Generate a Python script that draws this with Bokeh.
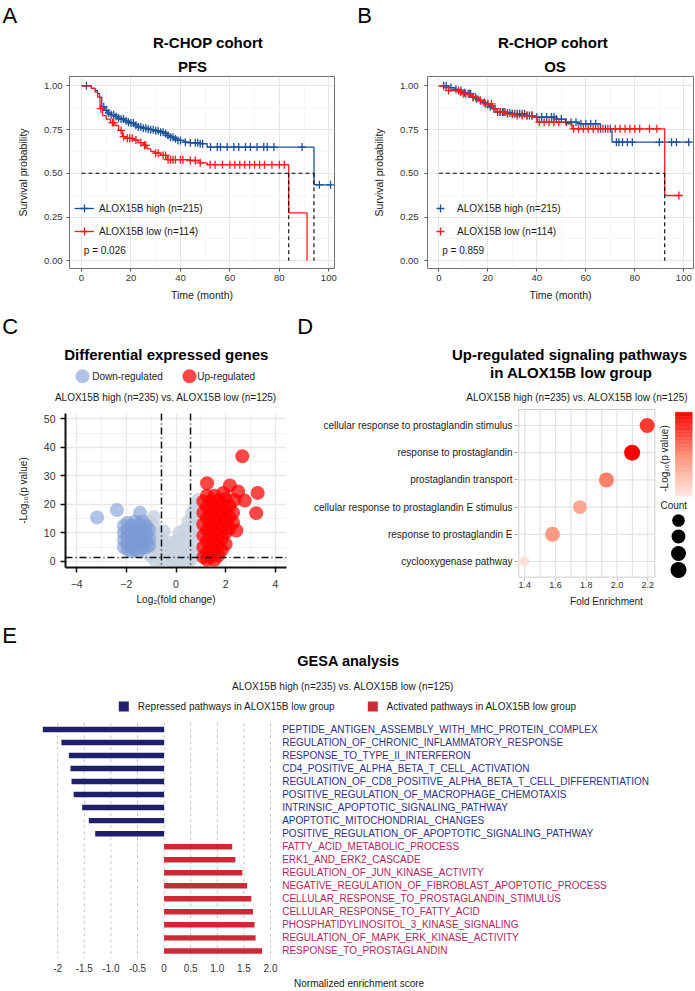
import math
from bokeh.plotting import figure
from bokeh.layouts import column, row
from bokeh.models import (Label, Range1d, FixedTicker, Span, ColumnDataSource, LinearColorMapper,
                          NumeralTickFormatter, Legend, LegendItem)
from bokeh.embed import file_html
from bokeh.resources import INLINE
from bokeh.core.properties import value

FONT = "Liberation Sans"

# ======================= DATA =======================
# Panel A: PFS, R-CHOP cohort (Kaplan-Meier steps)
pfs_high_time = [0, 4, 5.5, 6.5, 7.3, 8.2, 9.5, 10.5, 12, 13.5, 14.5, 16, 17.5, 18.5, 20, 21.5, 22.5, 24.5, 26.5, 28,
                 30, 32, 33.5, 34.6, 36, 37.3, 39, 41.4, 44, 48, 50.8, 94.0, 101.0]
pfs_high_surv = [1.0, 0.985, 0.973, 0.955, 0.935, 0.88, 0.86, 0.845, 0.835, 0.825, 0.815, 0.81, 0.8, 0.792, 0.787,
                 0.775, 0.764, 0.758, 0.752, 0.749, 0.743, 0.735, 0.728, 0.716, 0.706, 0.697, 0.688, 0.678, 0.674,
                 0.669, 0.65, 0.434, 0.434]
pfs_high_cens = [2, 9, 10, 11, 12, 13, 14, 15, 16, 17, 18, 19, 20, 21, 22, 23, 24, 25, 26, 27, 28, 29, 30, 31, 32, 33,
                 34, 35, 36, 37, 38, 39, 40, 42, 44, 46, 47, 48, 49, 52.2, 54.9, 56.2, 58.9, 61.6, 63.6, 66.3, 68.3,
                 71, 73.7, 75.1, 77.8, 89.2, 96.2, 100.7]
pfs_low_time = [0, 4, 5.5, 6.5, 7.5, 8.5, 10, 11.7, 13.5, 15, 16.5, 18, 21, 23, 25, 26.5, 28, 29.5, 32, 34.6, 44, 48,
                50.8, 83.8, 91.2]
pfs_low_surv = [1.0, 0.985, 0.964, 0.935, 0.869, 0.83, 0.81, 0.79, 0.773, 0.745, 0.71, 0.7, 0.69, 0.675, 0.66, 0.64,
                0.625, 0.615, 0.602, 0.578, 0.573, 0.56, 0.549, 0.274, 0.0]
pfs_low_cens = [7.8, 12.5, 13, 16, 17, 18.5, 19.5, 20.5, 22, 24, 25.5, 26, 30, 31, 33, 34, 35, 36, 37, 38, 40, 41, 44,
                46, 48, 52, 54, 57, 60, 62, 64, 66, 68, 70, 72, 74, 77, 80, 82]

# Panel B: OS, R-CHOP cohort
os_high_time = [0, 4, 6.5, 8.2, 10, 11, 13.6, 15, 16.3, 18, 19, 20.5, 21.8, 23.8, 27.2, 29.9, 35.4, 39.5, 48, 51.7,
                57.1, 66, 70.7, 102.7]
os_high_surv = [1.0, 0.99, 0.98, 0.973, 0.96, 0.954, 0.935, 0.925, 0.916, 0.905, 0.893, 0.88, 0.869, 0.85, 0.845, 0.84,
                0.83, 0.821, 0.81, 0.792, 0.783, 0.755, 0.678, 0.678]
os_high_cens = [2, 3, 5, 7, 9, 10.5, 12, 13, 14, 15.5, 17, 18.5, 20, 21, 22.5, 24, 25, 26, 27, 28, 29, 30, 31, 32, 33,
                34, 35, 36, 37, 38, 40, 42, 44, 46, 47, 48, 50, 52, 54, 56, 58, 60, 62, 64, 66, 68, 70, 72.5, 73.5, 75,
                77, 79, 90, 95, 97, 102]
os_low_time = [0, 2, 4, 8.2, 10, 13.6, 16.3, 19, 21.8, 23.8, 27.2, 31.3, 38.1, 40.1, 51.7, 54.4, 92.2, 98.6]
os_low_surv = [1.0, 0.99, 0.973, 0.965, 0.954, 0.935, 0.916, 0.897, 0.869, 0.85, 0.84, 0.83, 0.821, 0.792, 0.783,
               0.754, 0.373, 0.373]
os_low_cens = [4, 8, 9, 10, 11, 12.5, 14, 15, 17, 19, 20, 21.5, 23, 25, 26.5, 28, 30, 32, 34, 36, 38, 41, 43, 45, 47,
               49, 55, 57, 59, 61, 63, 65, 67, 69, 72, 74, 76, 78, 80, 82, 86, 89, 98]

legend_labels = ["ALOX15B high (n=215)", "ALOX15B low (n=114)"]
pfs_pvalue = "p = 0.026"
os_pvalue = "p = 0.859"

# Panel C: volcano plot
gray_x = [-1.05, -1.0, -1.0, -1.0, -0.95, -0.85, -0.8, -0.75, -0.7, -0.6, -0.6, -0.45, -0.35, -0.25, -0.1, 0.0, 0.0,
          0.1, 0.2, 0.3, 0.35, 0.45, 0.5, 0.55, 0.6, 0.65, 0.7, 0.75, 0.8, 0.85, 0.9, 0.95, 0.9, 0.2, -0.25, -0.85,
          0.6, -1.1, 0.45, -0.45, -0.5, 0.15, 0.75, -0.9]
gray_y = [14.0, 11.0, 8.0, 5.0, 2.0, 12.0, 9.0, 6.0, 3.0, 0.5, 8.0, 5.0, 2.0, 6.5, 3.5, 0.5, 7.0, 4.0, 8.0, 2.0, 11.0,
          6.0, 14.0, 3.0, 9.5, 17.0, 12.5, 6.0, 19.5, 15.0, 21.5, 10.0, 3.0, 0.3, 0.3, 0.5, 0.5, 2.5, 0.3, 1.0, 10.5,
          10.0, 16.0, 15.5]
down_x = [-3.18, -2.38, -1.45,
          -2.1, -2.1, -2.1, -2.1,
          -1.95, -1.95, -1.95, -1.95, -1.95,
          -1.8, -1.8, -1.8, -1.8, -1.8,
          -1.65, -1.65, -1.65, -1.65, -1.65,
          -1.5, -1.5, -1.5, -1.5, -1.5,
          -1.35, -1.35, -1.35, -1.35, -1.35,
          -1.2, -1.2, -1.2, -1.2,
          -1.08, -1.08, -1.08]
down_y = [15.4, 18.0, 17.0,
          12.5, 10.0, 7.5, 5.0,
          13.5, 11.0, 8.5, 6.0, 4.0,
          12.5, 10.0, 7.5, 5.0, 3.5,
          14.0, 11.5, 9.0, 6.5, 4.0,
          13.0, 10.5, 8.0, 5.5, 3.5,
          14.0, 11.5, 9.0, 6.5, 4.5,
          12.5, 10.0, 7.5, 5.0,
          11.0, 8.0, 5.5]
up_x = [2.67, 1.25, 2.17, 3.29, 3.23, 2.77, 2.5, 2.43, 2.35, 1.9,
        1.1, 1.1, 1.1, 1.1, 1.1, 1.1,
        1.25, 1.25, 1.25, 1.25, 1.25, 1.25, 1.25,
        1.4, 1.4, 1.4, 1.4, 1.4, 1.4,
        1.55, 1.55, 1.55, 1.55, 1.55, 1.55, 1.55,
        1.7, 1.7, 1.7, 1.7, 1.7, 1.7,
        1.85, 1.85, 1.85, 1.85, 1.85,
        2.0, 2.0, 2.0, 2.0, 2.0,
        2.15, 2.15, 2.15,
        2.3, 2.3]
up_y = [36.9, 27.4, 26.6, 24.0, 16.9, 21.3, 24.5, 10.8, 21.5, 24.0,
        21.0, 17.0, 13.0, 9.0, 5.0, 1.5,
        23.0, 19.0, 15.0, 11.0, 7.0, 3.0, 0.5,
        21.0, 17.0, 13.0, 9.0, 5.0, 1.5,
        23.0, 19.0, 15.0, 11.0, 7.0, 3.0, 0.5,
        21.5, 17.5, 13.5, 9.5, 5.5, 2.0,
        20.0, 16.0, 12.0, 8.0, 4.0,
        22.0, 18.0, 14.0, 10.0, 6.0,
        19.5, 15.5, 11.5,
        17.0, 13.5]
fc_cutoff = 0.585      # log2(1.5)
p_cutoff = 1.301       # -log10(0.05)
group_subtitle = "ALOX15B high (n=235) vs. ALOX15B low (n=125)"
volcano_groups = ["Down-regulated", "Up-regulated"]

# Panel D: enrichment dot plot (top to bottom)
go_terms = ["cellular response to prostaglandin stimulus", "response to prostaglandin", "prostaglandin transport",
            "cellular response to prostaglandin E stimulus", "response to prostaglandin E", "cyclooxygenase pathway"]
go_fold = [2.196, 2.098, 1.931, 1.758, 1.58, 1.398]
go_logp = [3.83, 4.5, 3.05, 2.46, 2.66, 1.44]
go_count = [7, 8, 7, 6, 7, 3]
count_breaks = [5, 6, 7, 8]
fe_ticks = [1.4, 1.6, 1.8, 2.0, 2.2]
fe_minor = [1.5, 1.7, 1.9, 2.1]

# Panel E: GSEA bars (top to bottom)
repressed_terms = ["PEPTIDE_ANTIGEN_ASSEMBLY_WITH_MHC_PROTEIN_COMPLEX", "REGULATION_OF_CHRONIC_INFLAMMATORY_RESPONSE",
                   "RESPONSE_TO_TYPE_II_INTERFERON", "CD4_POSITIVE_ALPHA_BETA_T_CELL_ACTIVATION",
                   "REGULATION_OF_CD8_POSITIVE_ALPHA_BETA_T_CELL_DIFFERENTIATION",
                   "POSITIVE_REGULATION_OF_MACROPHAGE_CHEMOTAXIS", "INTRINSIC_APOPTOTIC_SIGNALING_PATHWAY",
                   "APOPTOTIC_MITOCHONDRIAL_CHANGES", "POSITIVE_REGULATION_OF_APOPTOTIC_SIGNALING_PATHWAY"]
repressed_nes = [-2.28, -1.93, -1.79, -1.76, -1.74, -1.70, -1.54, -1.415, -1.295]
activated_terms = ["FATTY_ACID_METABOLIC_PROCESS", "ERK1_AND_ERK2_CASCADE", "REGULATION_OF_JUN_KINASE_ACTIVITY",
                   "NEGATIVE_REGULATION_OF_FIBROBLAST_APOPTOTIC_PROCESS", "CELLULAR_RESPONSE_TO_PROSTAGLANDIN_STIMULUS",
                   "CELLULAR_RESPONSE_TO_FATTY_ACID", "PHOSPHATIDYLINOSITOL_3_KINASE_SIGNALING",
                   "REGULATION_OF_MAPK_ERK_KINASE_ACTIVITY", "RESPONSE_TO_PROSTAGLANDIN"]
activated_nes = [1.28, 1.34, 1.47, 1.56, 1.64, 1.67, 1.70, 1.72, 1.84]
nes_ticks = [-2, -1.5, -1, -0.5, 0, 0.5, 1, 1.5, 2]
nes_tick_labels = ["-2", "-1.5", "-1.0", "-0.5", "0", "0.5", "1.0", "1.5", "2.0"]
gsea_groups = ["Repressed pathways in ALOX15B low group", "Activated pathways in ALOX15B low group"]

# colours
BLUE_KM, RED_KM = "#1B5299", "#FF1A1A"
DOWN_COL, UP_COL, NS_COL = "#7C9AD4", "#FF0000", "#C9D3E0"
REP_BAR, ACT_BAR = "#1F1F6E", "#CC2936"
REP_TXT, ACT_TXT = "#2B2F8C", "#B81D5E"
MID = 0.35   # distance (in em) from the alphabetic baseline to the middle of the text box


# ======================= HELPERS =======================
class Geo:
    """Frame geometry (figure-local px, y from top) and data ranges of one figure."""
    def __init__(self, fl, fr, ft, fb, x0, x1, y0, y1):
        self.fl, self.fr, self.ft, self.fb = fl, fr, ft, fb
        self.x0, self.x1, self.y0, self.y1 = x0, x1, y0, y1

    def dx(self, px):
        return self.x0 + (px - self.fl) / (self.fr - self.fl) * (self.x1 - self.x0)

    def dy(self, py):
        return self.y0 + (self.fb - py) / (self.fb - self.ft) * (self.y1 - self.y0)


def make_fig(width, height, g):
    p = figure(width=width, height=height, x_range=Range1d(g.x0, g.x1), y_range=Range1d(g.y0, g.y1),
               min_border_left=int(g.fl), min_border_right=int(width - g.fr), min_border_top=int(g.ft),
               min_border_bottom=int(height - g.fb), toolbar_location=None, output_backend="svg")
    p.frame_align = False
    p.background_fill_color = "white"
    p.border_fill_color = "white"
    return p


def header(width, height):
    """A figure whose frame is the whole canvas; data units = px (y from the top)."""
    g = Geo(0, width, 0, height, 0, width, height, 0)
    p = make_fig(width, height, g)
    p.xaxis.visible = False
    p.yaxis.visible = False
    p.xgrid.visible = False
    p.ygrid.visible = False
    p.outline_line_color = None
    return p, g


def add_text(p, g, cx, cy, text, size, bold=False, align="left", color="#000000", center=False, angle=0.0):
    """cx, cy in figure px; cy is the alphabetic baseline unless center=True."""
    y_mid = cy if center else cy - MID * size
    p.add_layout(Label(x=g.dx(cx), y=g.dy(y_mid), text=text, text_font=FONT, text_font_size="%gpx" % size,
                       text_font_style="bold" if bold else "normal", text_align=align,
                       text_baseline="middle", text_color=color, angle=angle))


def style_axis(ax, tick_size="10px", label_size="10.5px", tick_color="#333333", label_color="#1A1A1A",
               standoff=3, label_standoff=5, tick_out=3, tick_line_color="#555555", tick_width=1):
    ax.major_label_text_font = FONT
    ax.major_label_text_font_size = tick_size
    ax.major_label_text_color = tick_color
    ax.axis_label_text_font = FONT
    ax.axis_label_text_font_size = label_size
    ax.axis_label_text_font_style = "normal"
    ax.axis_label_text_color = label_color
    ax.major_label_standoff = standoff
    ax.axis_label_standoff = label_standoff
    ax.major_tick_out = tick_out
    ax.major_tick_in = 0
    ax.minor_tick_line_color = None
    ax.major_tick_line_color = tick_line_color
    ax.major_tick_line_width = tick_width


def surv_at(t, times, surv):
    s = surv[0]
    for ti, si in zip(times, surv):
        if ti <= t:
            s = si
        else:
            break
    return s


def median_time(times, surv):
    for ti, si in zip(times, surv):
        if si <= 0.5:
            return ti
    return None


def km_panel(width, fl, fr, x_zero, ppu, hi, lo, show_line, legend_box_x, label_standoff,
             ptext, p_x, ytick_standoff, ylab_standoff):
    top = 75                      # canvas y where this figure starts
    H, ft, fb = 235, 76 - top, 268 - top
    g = Geo(fl, fr, ft, fb, (fl - x_zero) / ppu, (fr - x_zero) / ppu, -0.044, 1.0531)
    p = make_fig(width, H, g)
    p.outline_line_color = "#707070"
    p.outline_line_width = 1
    p.xaxis.ticker = FixedTicker(ticks=[0, 20, 40, 60, 80, 100], minor_ticks=[10, 30, 50, 70, 90])
    p.yaxis.ticker = FixedTicker(ticks=[0, 0.25, 0.5, 0.75, 1.0], minor_ticks=[0.125, 0.375, 0.625, 0.875])
    p.yaxis.formatter = NumeralTickFormatter(format="0.00")
    for grid in (p.xgrid, p.ygrid):
        grid.grid_line_color = "#E6E6E6"
        grid.grid_line_width = 1
        grid.minor_grid_line_color = "#F2F2F2"
        grid.minor_grid_line_width = 0.7
    p.xaxis.axis_label = "Time (month)"
    p.yaxis.axis_label = "Survival probability"
    style_axis(p.xaxis, tick_size="9.5px", standoff=2, label_standoff=5)
    style_axis(p.yaxis, tick_size="9.5px", standoff=ytick_standoff, label_standoff=ylab_standoff)
    p.xaxis.axis_line_color = None
    p.yaxis.axis_line_color = None

    items = []
    for (times, surv, cens, color), lab in zip((hi, lo), legend_labels):
        r_line = p.step(x=times, y=surv, mode="after", line_color=color, line_width=1.3)
        cy = [surv_at(t, times, surv) for t in cens]
        r_pt = p.scatter(x=cens, y=cy, marker="cross", size=8, line_color=color, line_width=1.3)
        items.append(LegendItem(label=value(lab), renderers=[r_line, r_pt] if show_line else [r_pt]))

    meds = [m for m in (median_time(hi[0], hi[1]), median_time(lo[0], lo[1])) if m is not None]
    p.line(x=[0, max(meds)], y=[0.5, 0.5], line_color="black", line_dash="4 3", line_width=1.1)
    p.segment(x0=meds, y0=[0.5] * len(meds), x1=meds, y1=[0.0] * len(meds),
              line_color="black", line_dash="4 3", line_width=1.1)

    legend = Legend(items=items, location=(legend_box_x - fl, fb - (242 - top)), orientation="vertical",
                    glyph_width=20, glyph_height=22, label_height=22, spacing=1, padding=0, margin=0,
                    label_standoff=label_standoff, label_text_font=FONT, label_text_font_size="10px",
                    label_text_color="#1A1A1A", border_line_color=None, background_fill_alpha=0)
    p.add_layout(legend)
    add_text(p, g, p_x, 253.5 - top, ptext, 10, color="#1A1A1A")
    return p


# ======================= PANEL A / B =======================
hA, gA = header(345, 75)
add_text(hA, gA, 2, 22.7, "A", 22)
add_text(hA, gA, 207.5, 47.7, "R-CHOP cohort", 15, bold=True, align="center")
add_text(hA, gA, 192, 71.5, "PFS", 15, bold=True, align="center")
hB, gB = header(350, 75)
add_text(hB, gB, 11.7, 22.7, "B", 22)
add_text(hB, gB, 207.5, 47.7, "R-CHOP cohort", 15, bold=True, align="center")
add_text(hB, gB, 209.5, 71.5, "OS", 15, bold=True, align="center")

pa = km_panel(345, 69, 334, 81.0, 2.473,
              (pfs_high_time, pfs_high_surv, pfs_high_cens, BLUE_KM),
              (pfs_low_time, pfs_low_surv, pfs_low_cens, RED_KM),
              True, 74, 5, pfs_pvalue, 83.3, 3, 12)
pb = km_panel(350, 82, 348, 93.3, 2.45,
              (os_high_time, os_high_surv, os_high_cens, BLUE_KM),
              (os_low_time, os_low_surv, os_low_cens, RED_KM),
              False, 85, 7, os_pvalue, 96.7, 5, 12)

# ======================= PANEL C =======================
hC, gCh = header(295, 98)
add_text(hC, gCh, 1.7, 23.3, "C", 22)
add_text(hC, gCh, 165.8, 49.3, "Differential expressed genes", 15, bold=True, align="center")
add_text(hC, gCh, 165.3, 90, group_subtitle, 10, align="center", color="#1A1A1A")
# legend keys
hC.scatter(x=[82, 189], y=[65.7, 65.7], size=14, fill_color=[DOWN_COL, UP_COL], fill_alpha=[0.6, 0.72],
           line_color=None)
add_text(hC, gCh, 91.7, 65.7, volcano_groups[0], 10, color="#1A1A1A", center=True)
add_text(hC, gCh, 196.7, 65.7, volcano_groups[1], 10, color="#1A1A1A", center=True)

c_top = 408
gC = Geo(65, 286, 413 - c_top, 567 - c_top, -4.45, 4.45, -2.2, 51.9)
pc = make_fig(295, 202, gC)
pc.outline_line_color = None
pc.xaxis.ticker = FixedTicker(ticks=[-4, -2, 0, 2, 4], minor_ticks=[-3, -1, 1, 3])
pc.yaxis.ticker = FixedTicker(ticks=[0, 10, 20, 30, 40, 50], minor_ticks=[5, 15, 25, 35, 45])
for grid in (pc.xgrid, pc.ygrid):
    grid.grid_line_color = "#E8E8E8"
    grid.grid_line_width = 1.3
    grid.minor_grid_line_color = "#F0F0F0"
    grid.minor_grid_line_width = 0.8
pc.xaxis.axis_label = "Log\u2082(fold change)"
pc.yaxis.axis_label = "-Log\u2081\u2080(p value)"
style_axis(pc.xaxis, tick_size="10.5px", label_size="10px", standoff=7, label_standoff=3, tick_out=5,
           tick_line_color="#111111", tick_width=1.5)
style_axis(pc.yaxis, tick_size="10.5px", label_size="10px", standoff=5, label_standoff=12, tick_out=5,
           tick_line_color="#111111", tick_width=1.5)
for ax in (pc.xaxis, pc.yaxis):
    ax.axis_line_color = "#111111"
    ax.axis_line_width = 2

pc.scatter(x=gray_x, y=gray_y, size=14, fill_color=NS_COL, fill_alpha=0.85, line_color=None)
pc.scatter(x=down_x, y=down_y, size=14, fill_color=DOWN_COL, fill_alpha=0.6, line_color=None)
pc.scatter(x=up_x, y=up_y, size=14, fill_color=UP_COL, fill_alpha=0.72, line_color=None)
for loc in (-fc_cutoff, fc_cutoff):
    pc.add_layout(Span(location=loc, dimension="height", line_color="#111111", line_width=1.5,
                       line_dash="7 3 1 3"))
pc.add_layout(Span(location=p_cutoff, dimension="width", line_color="#111111", line_width=1.5,
                   line_dash="7 3 1 3"))

# ======================= PANEL D =======================
hD, gDh = header(400, 98)
add_text(hD, gDh, 1.7, 23.3, "D", 22)
add_text(hD, gDh, 274, 49, "Up-regulated signaling pathways", 15, bold=True, align="center")
add_text(hD, gDh, 275.8, 67, "in ALOX15B low group", 15, bold=True, align="center")
add_text(hD, gDh, 281.7, 90, group_subtitle, 10, align="center", color="#1A1A1A")

d_left, d_top = 295, 408
gD = Geo(222, 400, 408 - d_top, 578 - d_top, 1.3525, 2.5102, -0.625, 5.625)
pdd = make_fig(400, 202, gD)
pdd.outline_line_color = None
pdd.xgrid.grid_line_color = None
pdd.ygrid.grid_line_color = None
n_terms = len(go_terms)
go_pos = list(range(n_terms - 1, -1, -1))
pdd.xaxis.ticker = FixedTicker(ticks=fe_ticks)
pdd.xaxis.formatter = NumeralTickFormatter(format="0.0")
pdd.yaxis.ticker = FixedTicker(ticks=go_pos)
pdd.yaxis.major_label_overrides = {pos: term for pos, term in zip(go_pos, go_terms)}
pdd.xaxis.axis_label = "Fold Enrichment"
style_axis(pdd.xaxis, tick_size="9px", label_size="10px", standoff=1, label_standoff=5, tick_out=2,
           tick_line_color="#AAAAAA")
style_axis(pdd.yaxis, tick_size="10px", tick_color="#1A1A1A", standoff=2, tick_out=3, tick_line_color="#AAAAAA")
pdd.xaxis.axis_line_color = None
pdd.yaxis.axis_line_color = None

# panel box and its grid
xl, xr = gD.dx(518.3 - d_left), gD.dx(654.3 - d_left)
yt, yb = gD.dy(409.0 - d_top), gD.dy(576.7 - d_top)
vgrid = sorted(fe_ticks + fe_minor)
pdd.segment(x0=vgrid, y0=[yb] * len(vgrid), x1=vgrid, y1=[yt] * len(vgrid), line_color="#E3E3E3", line_width=1.2)
pdd.segment(x0=[xl] * n_terms, y0=go_pos, x1=[xr] * n_terms, y1=go_pos, line_color="#E3E3E3", line_width=1.2)
pdd.quad(left=xl, right=xr, bottom=yb, top=yt, fill_color=None, line_color="#CCCCCC", line_width=1)


def build_palette(n=256):
    anchors = [(0.0, (255, 232, 225)), (0.5, (255, 140, 115)), (1.0, (255, 0, 0))]
    pal = []
    for i in range(n):
        t = i / (n - 1)
        for (t0, c0), (t1, c1) in zip(anchors[:-1], anchors[1:]):
            if t0 <= t <= t1:
                f = (t - t0) / (t1 - t0)
                c = [round(a + (b - a) * f) for a, b in zip(c0, c1)]
                pal.append("#%02X%02X%02X" % tuple(c))
                break
    return pal


palette = build_palette()
mapper = LinearColorMapper(palette=palette, low=1.3, high=4.5)
dot_src = ColumnDataSource(dict(x=go_fold, y=go_pos, logp=go_logp,
                                size=[5.66 * math.sqrt(c) for c in go_count]))
pdd.scatter(x="x", y="y", size="size", source=dot_src, fill_color={"field": "logp", "transform": mapper},
            line_color=None)

# colour bar
cb_l, cb_r = gD.dx(675 - d_left), gD.dx(691.7 - d_left)
cb_b, cb_t = gD.dy(495.7 - d_top), gD.dy(411.7 - d_top)
nseg = 60
cb_bottom = [cb_b + (cb_t - cb_b) * i / nseg for i in range(nseg)]
cb_top = [cb_b + (cb_t - cb_b) * (i + 1) / nseg for i in range(nseg)]
cb_col = [palette[int(round((i + 0.5) / nseg * (len(palette) - 1)))] for i in range(nseg)]
pdd.quad(left=cb_l, right=cb_r, bottom=cb_bottom, top=cb_top, fill_color=cb_col, line_color=cb_col, line_width=0.5)
# count legend
cnt_y = [gD.dy(v - d_top) for v in (520.0, 536.0, 553.0, 569.5)]
pdd.scatter(x=[gD.dx(678 - d_left)] * len(count_breaks), y=cnt_y,
            size=[5.66 * math.sqrt(c) for c in count_breaks], fill_color="black", line_color=None)
add_text(pdd, gD, 664 - d_left, 458 - d_top, "-Log\u2081\u2080(p value)", 10, align="center",
         color="#1A1A1A", center=True, angle=math.pi / 2)
add_text(pdd, gD, 673.3 - d_left, 508 - d_top, "Count", 10, align="center", color="#1A1A1A")

# ======================= PANEL E =======================
hE, gEh = header(695, 105)
add_text(hE, gEh, 1.7, 33, "E", 22)
add_text(hE, gEh, 348, 56, "GESA analysis", 14.5, bold=True, align="center")
add_text(hE, gEh, 342.5, 79, group_subtitle, 10, align="center", color="#1A1A1A")
# legend keys
hE.quad(left=[118.3, 367.3], right=[128.3, 377.3], top=[91, 91], bottom=[101, 101],
        fill_color=[REP_BAR, ACT_BAR], line_color=None)
add_text(hE, gEh, 137.3, 96, gsea_groups[0], 10, color="#1A1A1A", center=True)
add_text(hE, gEh, 386.0, 96, gsea_groups[1], 10, color="#1A1A1A", center=True)

e_top = 715
zero_px, nes_ppu, row0_px, row_pitch = 163.6, 53.2, 729.0 - e_top, 13.08
gE = Geo(30, 690, 0, 959 - e_top, (30 - zero_px) / nes_ppu, (690 - zero_px) / nes_ppu,
         (959 - e_top - row0_px) / row_pitch, (0 - row0_px) / row_pitch)
pe = make_fig(695, 276, gE)
pe.outline_line_color = None
pe.xgrid.grid_line_color = None
pe.ygrid.grid_line_color = None
pe.yaxis.visible = False
pe.xaxis.ticker = FixedTicker(ticks=nes_ticks)
pe.xaxis.major_label_overrides = {t: s for t, s in zip(nes_ticks, nes_tick_labels)}
pe.xaxis.axis_label = "Normalized enrichment  score"
style_axis(pe.xaxis, tick_size="10px", label_size="10px", standoff=5, label_standoff=3, tick_out=0)
pe.xaxis.axis_line_color = None
pe.xaxis.major_tick_line_color = None

g_top, g_bot = gE.dy(722.7 - e_top), gE.dy(959 - e_top)
pe.segment(x0=nes_ticks, y0=[g_top] * len(nes_ticks), x1=nes_ticks, y1=[g_bot] * len(nes_ticks),
           line_color="#C4C4C4", line_width=1, line_dash="3 3")

n_rep = len(repressed_terms)
rows_rep = list(range(n_rep))
rows_act = list(range(n_rep, n_rep + len(activated_terms)))
pe.hbar(y=rows_rep, left=0, right=repressed_nes, height=0.42, fill_color=REP_BAR, line_color=None)
pe.hbar(y=rows_act, left=0, right=activated_nes, height=0.42, fill_color=ACT_BAR, line_color=None)

lab_src = ColumnDataSource(dict(x=[gE.dx(281.7)] * (len(rows_rep) + len(rows_act)),
                                y=rows_rep + rows_act,
                                text=repressed_terms + activated_terms,
                                color=[REP_TXT] * n_rep + [ACT_TXT] * len(activated_terms)))
pe.text(x="x", y="y", text="text", text_color="color", source=lab_src, text_font=value(FONT),
        text_font_size=value("10px"), text_baseline="middle", text_align="left")

layout = column(row(hA, hB), row(pa, pb), row(hC, hD), row(pc, pdd), hE, pe)
open("out.html", "w").write(file_html(layout, INLINE))
